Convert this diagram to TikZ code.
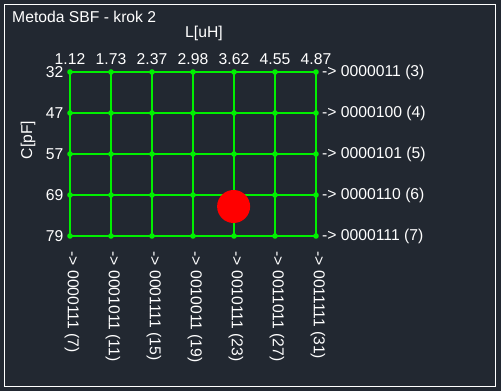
\documentclass[tikz,border=0pt]{standalone}
\usepackage{fontspec}
\setmainfont{Liberation Sans}
\definecolor{bgc}{RGB}{34,40,49}
\definecolor{gridc}{RGB}{0,240,0}
\definecolor{dotc}{RGB}{255,0,0}
\begin{document}
\begin{tikzpicture}[x=1pt,y=-1pt,
  lbl/.style={text=white,font=\fontsize{15.7}{18}\selectfont,inner sep=0pt},
  gline/.style={draw=gridc,line width=2pt},
  gdot/.style={fill=gridc}]
\fill[bgc] (0,0) rectangle (501,391);
\useasboundingbox (0,0) rectangle (501,391);
\draw[white,line width=1pt] (4.5,4.5) rectangle (495.5,386.5);
\node[lbl,anchor=base west] (title) at (12,22.5) {Metoda SBF - krok 2};
\node[lbl,anchor=base] (Lax) at (204,37.5) {L[uH]};
\node[lbl,rotate=90] (Cax) at (28,140) {C[pF]};
% grid coordinates
\foreach \c [count=\i] in {70,111,152,193,234,275,316}{
  \foreach \r [count=\j] in {72,113,154,195,236}{
    \coordinate (p\i-\j) at (\c,\r);
  }
}
\foreach \j in {1,...,5}{ \draw[gline] (p1-\j) -- (p7-\j); }
\foreach \i in {1,...,7}{ \draw[gline] (p\i-1) -- (p\i-5); }
\foreach \i in {1,...,7}{ \foreach \j in {1,...,5}{ \fill[gdot] (p\i-\j) circle (2.8); } }
% top labels
\foreach \t [count=\i] in {1.12,1.73,2.37,2.98,3.62,4.55,4.87}{
  \node[lbl,anchor=base] (top\i) at ([yshift=8pt]p\i-1) {\t};
}
% left labels
\foreach \t [count=\j] in {32,47,57,69,79}{
  \node[lbl,anchor=east] (left\j) at ([xshift=-6.5pt]p1-\j) {\t};
}
% right labels
\foreach \t [count=\j] in {0000011 (3),0000100 (4),0000101 (5),0000110 (6),0000111 (7)}{
  \node[lbl,anchor=west] (right\j) at ([xshift=6pt]p7-\j) {-> \t};
}
% bottom labels
\foreach \t [count=\i] in {0000111 (7),0001011 (11),0001111 (15),0010011 (19),0010111 (23),0011011 (27),0011111 (31)}{
  \node[lbl,anchor=west,rotate=-90] (bot\i) at ([xshift=2pt,yshift=-15.5pt]p\i-5) {-> \t};
}
% red marker
\node[circle,fill=dotc,minimum size=33pt,inner sep=0pt] (mark) at (233.6,206.5) {};
\end{tikzpicture}
\end{document}
